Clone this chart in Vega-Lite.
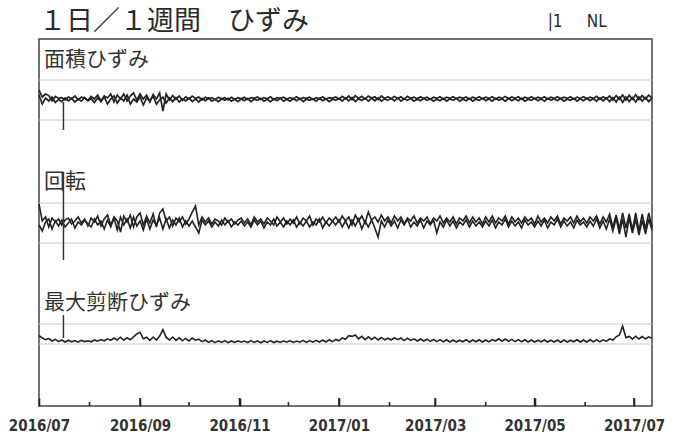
{
"$schema": "https://vega.github.io/schema/vega-lite/v6.json",
"width": 613, "height": 367,
"autosize": {"type": "none"},
"padding": {"left": 39, "top": 39, "right": 30, "bottom": 31},
"background": "white",
"config": {"view": {"stroke": "#444", "strokeWidth": 1.5}},
"datasets": {"strain": [
{"d":"2016-07-01","a1":0.5,"a2":0.25,"r1":0.95,"r2":-0.1,"s":0.42},
{"d":"2016-07-03","a1":0.15,"a2":-0.2,"r1":0.1,"r2":-0.4,"s":0.3},
{"d":"2016-07-05","a1":0.3,"a2":0.1,"r1":0.3,"r2":0.05,"s":0.22},
{"d":"2016-07-07","a1":0.22,"a2":-0.05,"r1":-0.2,"r2":0.2,"s":0.27},
{"d":"2016-07-09","a1":-0.05,"a2":0.15,"r1":0.25,"r2":-0.3,"s":0.15},
{"d":"2016-07-11","a1":0.18,"a2":-0.12,"r1":0.05,"r2":0.1,"s":0.23},
{"d":"2016-07-13","a1":0.08,"a2":0.02,"r1":0.2,"r2":-0.15,"s":0.12},
{"d":"2016-07-15","a1":0.12,"a2":-0.08,"r1":-0.1,"r2":0.15,"s":0.2},
{"d":"2016-07-17","a1":0.0,"a2":0.1,"r1":0.15,"r2":-0.2,"s":0.1},
{"d":"2016-07-19","a1":0.15,"a2":-0.05,"r1":0.25,"r2":0.0,"s":0.19},
{"d":"2016-07-21","a1":0.06,"a2":0.08,"r1":-0.05,"r2":0.2,"s":0.11},
{"d":"2016-07-23","a1":0.2,"a2":-0.1,"r1":0.1,"r2":-0.25,"s":0.17},
{"d":"2016-07-25","a1":0.02,"a2":0.05,"r1":0.3,"r2":0.05,"s":0.09},
{"d":"2016-07-27","a1":0.14,"a2":-0.06,"r1":0.0,"r2":-0.1,"s":0.18},
{"d":"2016-07-29","a1":0.1,"a2":0.12,"r1":0.2,"r2":0.15,"s":0.12},
{"d":"2016-07-31","a1":-0.02,"a2":-0.04,"r1":-0.15,"r2":-0.05,"s":0.16},
{"d":"2016-08-02","a1":0.18,"a2":0.06,"r1":0.25,"r2":-0.2,"s":0.11},
{"d":"2016-08-04","a1":0.05,"a2":-0.12,"r1":0.05,"r2":0.2,"s":0.2},
{"d":"2016-08-06","a1":0.25,"a2":0.1,"r1":0.35,"r2":-0.1,"s":0.14},
{"d":"2016-08-08","a1":-0.05,"a2":-0.08,"r1":-0.15,"r2":0.1,"s":0.22},
{"d":"2016-08-10","a1":0.2,"a2":0.15,"r1":0.2,"r2":-0.3,"s":0.16},
{"d":"2016-08-12","a1":0.1,"a2":-0.2,"r1":0.4,"r2":0.15,"s":0.26},
{"d":"2016-08-14","a1":0.3,"a2":0.05,"r1":-0.1,"r2":-0.2,"s":0.18},
{"d":"2016-08-16","a1":-0.1,"a2":0.2,"r1":0.3,"r2":0.25,"s":0.3},
{"d":"2016-08-18","a1":0.25,"a2":-0.15,"r1":0.1,"r2":-0.35,"s":0.2},
{"d":"2016-08-20","a1":0.05,"a2":0.1,"r1":-0.45,"r2":0.3,"s":0.34},
{"d":"2016-08-22","a1":0.3,"a2":-0.05,"r1":0.35,"r2":-0.1,"s":0.19},
{"d":"2016-08-24","a1":-0.05,"a2":0.25,"r1":0.05,"r2":0.2,"s":0.31},
{"d":"2016-08-26","a1":0.2,"a2":-0.2,"r1":0.4,"r2":-0.25,"s":0.21},
{"d":"2016-08-28","a1":0.35,"a2":0.05,"r1":-0.2,"r2":0.3,"s":0.36},
{"d":"2016-08-30","a1":0.0,"a2":-0.1,"r1":0.3,"r2":-0.15,"s":0.5},
{"d":"2016-09-01","a1":0.3,"a2":0.15,"r1":0.5,"r2":0.1,"s":0.58},
{"d":"2016-09-03","a1":0.05,"a2":-0.25,"r1":-0.1,"r2":-0.35,"s":0.26},
{"d":"2016-09-05","a1":0.25,"a2":0.1,"r1":0.35,"r2":0.2,"s":0.34},
{"d":"2016-09-07","a1":-0.1,"a2":-0.05,"r1":0.0,"r2":-0.3,"s":0.18},
{"d":"2016-09-09","a1":0.28,"a2":0.2,"r1":0.45,"r2":0.15,"s":0.35},
{"d":"2016-09-11","a1":0.05,"a2":-0.2,"r1":-0.2,"r2":-0.1,"s":0.2},
{"d":"2016-09-13","a1":0.35,"a2":0.0,"r1":0.5,"r2":0.25,"s":0.4},
{"d":"2016-09-15","a1":-0.55,"a2":0.15,"r1":0.7,"r2":-0.3,"s":0.72},
{"d":"2016-09-17","a1":0.3,"a2":-0.15,"r1":0.1,"r2":0.2,"s":0.33},
{"d":"2016-09-19","a1":0.0,"a2":0.1,"r1":0.3,"r2":-0.25,"s":0.2},
{"d":"2016-09-21","a1":0.22,"a2":-0.08,"r1":-0.15,"r2":0.15,"s":0.35},
{"d":"2016-09-23","a1":0.05,"a2":0.12,"r1":0.25,"r2":-0.1,"s":0.18},
{"d":"2016-09-25","a1":0.2,"a2":-0.1,"r1":0.05,"r2":0.25,"s":0.31},
{"d":"2016-09-27","a1":-0.02,"a2":0.06,"r1":0.3,"r2":-0.2,"s":0.16},
{"d":"2016-09-29","a1":0.16,"a2":-0.05,"r1":-0.05,"r2":0.1,"s":0.28},
{"d":"2016-10-01","a1":0.04,"a2":0.1,"r1":0.2,"r2":-0.15,"s":0.15},
{"d":"2016-10-03","a1":0.2,"a2":-0.08,"r1":0.55,"r2":0.1,"s":0.3},
{"d":"2016-10-05","a1":0.08,"a2":0.06,"r1":0.85,"r2":-0.2,"s":0.19},
{"d":"2016-10-07","a1":0.15,"a2":-0.1,"r1":-0.1,"r2":-0.5,"s":0.24},
{"d":"2016-10-09","a1":0.0,"a2":0.08,"r1":0.3,"r2":0.15,"s":0.12},
{"d":"2016-10-11","a1":0.14,"a2":-0.04,"r1":0.05,"r2":-0.1,"s":0.2},
{"d":"2016-10-13","a1":0.06,"a2":0.1,"r1":0.25,"r2":0.1,"s":0.08},
{"d":"2016-10-15","a1":0.12,"a2":-0.06,"r1":-0.05,"r2":-0.2,"s":0.17},
{"d":"2016-10-17","a1":0.02,"a2":0.04,"r1":0.2,"r2":0.05,"s":0.07},
{"d":"2016-10-19","a1":0.14,"a2":-0.08,"r1":0.1,"r2":-0.15,"s":0.16},
{"d":"2016-10-21","a1":0.06,"a2":0.06,"r1":-0.1,"r2":0.15,"s":0.08},
{"d":"2016-10-23","a1":0.12,"a2":-0.02,"r1":0.25,"r2":-0.1,"s":0.17},
{"d":"2016-10-25","a1":0.0,"a2":0.08,"r1":0.05,"r2":0.1,"s":0.07},
{"d":"2016-10-27","a1":0.14,"a2":-0.06,"r1":0.2,"r2":-0.2,"s":0.15},
{"d":"2016-10-29","a1":0.04,"a2":0.04,"r1":-0.05,"r2":0.05,"s":0.08},
{"d":"2016-10-31","a1":0.12,"a2":-0.08,"r1":0.15,"r2":-0.1,"s":0.16},
{"d":"2016-11-02","a1":0.06,"a2":0.06,"r1":0.25,"r2":0.1,"s":0.09},
{"d":"2016-11-04","a1":0.14,"a2":-0.04,"r1":0.0,"r2":-0.15,"s":0.15},
{"d":"2016-11-06","a1":0.02,"a2":0.08,"r1":0.2,"r2":0.05,"s":0.07},
{"d":"2016-11-08","a1":0.12,"a2":-0.08,"r1":-0.1,"r2":-0.2,"s":0.17},
{"d":"2016-11-10","a1":0.08,"a2":0.04,"r1":0.3,"r2":0.15,"s":0.08},
{"d":"2016-11-12","a1":0.15,"a2":-0.02,"r1":0.05,"r2":-0.1,"s":0.16},
{"d":"2016-11-14","a1":0.03,"a2":0.08,"r1":0.2,"r2":0.1,"s":0.06},
{"d":"2016-11-16","a1":0.12,"a2":-0.06,"r1":-0.05,"r2":-0.25,"s":0.15},
{"d":"2016-11-18","a1":0.06,"a2":0.04,"r1":0.25,"r2":0.05,"s":0.08},
{"d":"2016-11-20","a1":0.16,"a2":-0.08,"r1":0.1,"r2":-0.1,"s":0.17},
{"d":"2016-11-22","a1":0.02,"a2":0.06,"r1":-0.1,"r2":0.2,"s":0.07},
{"d":"2016-11-24","a1":0.12,"a2":-0.04,"r1":0.3,"r2":-0.15,"s":0.14},
{"d":"2016-11-26","a1":0.08,"a2":0.08,"r1":0.05,"r2":0.05,"s":0.08},
{"d":"2016-11-28","a1":0.14,"a2":-0.06,"r1":0.25,"r2":-0.2,"s":0.16},
{"d":"2016-11-30","a1":0.04,"a2":0.04,"r1":-0.05,"r2":0.1,"s":0.09},
{"d":"2016-12-02","a1":0.12,"a2":-0.06,"r1":0.2,"r2":-0.1,"s":0.17},
{"d":"2016-12-04","a1":0.06,"a2":0.06,"r1":0.0,"r2":0.15,"s":0.08},
{"d":"2016-12-06","a1":0.16,"a2":-0.04,"r1":0.3,"r2":-0.2,"s":0.15},
{"d":"2016-12-08","a1":0.04,"a2":0.08,"r1":-0.05,"r2":0.05,"s":0.09},
{"d":"2016-12-10","a1":0.12,"a2":-0.08,"r1":0.25,"r2":-0.15,"s":0.18},
{"d":"2016-12-12","a1":0.08,"a2":0.04,"r1":0.1,"r2":0.1,"s":0.08},
{"d":"2016-12-14","a1":0.14,"a2":-0.02,"r1":0.35,"r2":-0.2,"s":0.17},
{"d":"2016-12-16","a1":0.02,"a2":0.06,"r1":-0.1,"r2":0.05,"s":0.09},
{"d":"2016-12-18","a1":0.12,"a2":-0.06,"r1":0.2,"r2":-0.1,"s":0.18},
{"d":"2016-12-20","a1":0.06,"a2":0.08,"r1":0.05,"r2":0.2,"s":0.1},
{"d":"2016-12-22","a1":0.16,"a2":-0.04,"r1":0.3,"r2":-0.25,"s":0.2},
{"d":"2016-12-24","a1":0.04,"a2":0.06,"r1":0.0,"r2":0.05,"s":0.1},
{"d":"2016-12-26","a1":0.12,"a2":-0.08,"r1":0.25,"r2":-0.15,"s":0.21},
{"d":"2016-12-28","a1":0.08,"a2":0.04,"r1":0.1,"r2":0.1,"s":0.12},
{"d":"2016-12-30","a1":0.15,"a2":-0.02,"r1":0.3,"r2":-0.1,"s":0.23},
{"d":"2017-01-01","a1":0.04,"a2":0.08,"r1":0.05,"r2":0.15,"s":0.16},
{"d":"2017-01-03","a1":0.18,"a2":-0.06,"r1":0.35,"r2":-0.2,"s":0.3},
{"d":"2017-01-05","a1":0.06,"a2":0.1,"r1":0.1,"r2":0.1,"s":0.24},
{"d":"2017-01-07","a1":0.2,"a2":-0.04,"r1":0.3,"r2":-0.25,"s":0.42},
{"d":"2017-01-09","a1":0.02,"a2":0.12,"r1":-0.1,"r2":0.15,"s":0.38},
{"d":"2017-01-11","a1":0.22,"a2":-0.08,"r1":0.4,"r2":-0.15,"s":0.45},
{"d":"2017-01-13","a1":0.08,"a2":0.06,"r1":0.1,"r2":0.2,"s":0.26},
{"d":"2017-01-15","a1":0.18,"a2":-0.02,"r1":0.35,"r2":-0.3,"s":0.38},
{"d":"2017-01-17","a1":0.04,"a2":0.1,"r1":0.0,"r2":0.1,"s":0.22},
{"d":"2017-01-19","a1":0.2,"a2":-0.06,"r1":0.55,"r2":-0.2,"s":0.36},
{"d":"2017-01-21","a1":0.1,"a2":0.08,"r1":0.15,"r2":0.15,"s":0.23},
{"d":"2017-01-23","a1":0.16,"a2":-0.04,"r1":0.3,"r2":-0.25,"s":0.34},
{"d":"2017-01-25","a1":0.02,"a2":0.1,"r1":0.05,"r2":-0.7,"s":0.2},
{"d":"2017-01-27","a1":0.2,"a2":-0.06,"r1":0.4,"r2":0.1,"s":0.33},
{"d":"2017-01-29","a1":0.08,"a2":0.06,"r1":0.1,"r2":-0.2,"s":0.21},
{"d":"2017-01-31","a1":0.16,"a2":-0.02,"r1":0.3,"r2":0.15,"s":0.29},
{"d":"2017-02-02","a1":0.06,"a2":0.08,"r1":0.0,"r2":-0.15,"s":0.2},
{"d":"2017-02-04","a1":0.18,"a2":-0.04,"r1":0.35,"r2":0.1,"s":0.31},
{"d":"2017-02-06","a1":0.08,"a2":0.1,"r1":0.1,"r2":-0.25,"s":0.22},
{"d":"2017-02-08","a1":0.16,"a2":-0.06,"r1":0.3,"r2":0.15,"s":0.3},
{"d":"2017-02-10","a1":0.04,"a2":0.06,"r1":-0.05,"r2":-0.1,"s":0.17},
{"d":"2017-02-12","a1":0.18,"a2":-0.02,"r1":0.25,"r2":0.2,"s":0.29},
{"d":"2017-02-14","a1":0.08,"a2":0.08,"r1":0.1,"r2":-0.2,"s":0.18},
{"d":"2017-02-16","a1":0.14,"a2":-0.06,"r1":0.35,"r2":0.05,"s":0.26},
{"d":"2017-02-18","a1":0.06,"a2":0.04,"r1":0.0,"r2":-0.15,"s":0.15},
{"d":"2017-02-20","a1":0.16,"a2":-0.04,"r1":0.25,"r2":0.15,"s":0.25},
{"d":"2017-02-22","a1":0.08,"a2":0.08,"r1":0.1,"r2":-0.25,"s":0.15},
{"d":"2017-02-24","a1":0.14,"a2":-0.02,"r1":0.3,"r2":0.1,"s":0.24},
{"d":"2017-02-26","a1":0.04,"a2":0.06,"r1":-0.05,"r2":-0.1,"s":0.13},
{"d":"2017-02-28","a1":0.14,"a2":-0.06,"r1":0.25,"r2":0.15,"s":0.23},
{"d":"2017-03-02","a1":0.08,"a2":0.04,"r1":0.1,"r2":-0.5,"s":0.12},
{"d":"2017-03-04","a1":0.16,"a2":-0.04,"r1":0.35,"r2":0.05,"s":0.22},
{"d":"2017-03-06","a1":0.04,"a2":0.08,"r1":0.0,"r2":-0.2,"s":0.11},
{"d":"2017-03-08","a1":0.14,"a2":-0.06,"r1":0.25,"r2":0.15,"s":0.21},
{"d":"2017-03-10","a1":0.08,"a2":0.06,"r1":0.05,"r2":-0.15,"s":0.1},
{"d":"2017-03-12","a1":0.16,"a2":-0.02,"r1":0.3,"r2":0.1,"s":0.2},
{"d":"2017-03-14","a1":0.06,"a2":0.08,"r1":-0.05,"r2":-0.25,"s":0.1},
{"d":"2017-03-16","a1":0.14,"a2":-0.06,"r1":0.25,"r2":0.05,"s":0.19},
{"d":"2017-03-18","a1":0.08,"a2":0.04,"r1":0.1,"r2":-0.1,"s":0.11},
{"d":"2017-03-20","a1":0.15,"a2":-0.04,"r1":0.35,"r2":0.15,"s":0.21},
{"d":"2017-03-22","a1":0.04,"a2":0.08,"r1":0.0,"r2":-0.2,"s":0.1},
{"d":"2017-03-24","a1":0.14,"a2":-0.06,"r1":0.3,"r2":0.1,"s":0.2},
{"d":"2017-03-26","a1":0.08,"a2":0.04,"r1":0.05,"r2":-0.15,"s":0.11},
{"d":"2017-03-28","a1":0.16,"a2":-0.02,"r1":0.25,"r2":0.05,"s":0.21},
{"d":"2017-03-30","a1":0.06,"a2":0.08,"r1":-0.05,"r2":-0.2,"s":0.1},
{"d":"2017-04-01","a1":0.14,"a2":-0.04,"r1":0.3,"r2":0.1,"s":0.2},
{"d":"2017-04-03","a1":0.08,"a2":0.06,"r1":0.05,"r2":-0.15,"s":0.11},
{"d":"2017-04-05","a1":0.16,"a2":-0.06,"r1":0.35,"r2":0.15,"s":0.22},
{"d":"2017-04-07","a1":0.04,"a2":0.08,"r1":0.0,"r2":-0.25,"s":0.15},
{"d":"2017-04-09","a1":0.14,"a2":-0.02,"r1":0.25,"r2":0.05,"s":0.26},
{"d":"2017-04-11","a1":0.08,"a2":0.06,"r1":0.1,"r2":-0.1,"s":0.14},
{"d":"2017-04-13","a1":0.18,"a2":-0.06,"r1":0.35,"r2":0.2,"s":0.25},
{"d":"2017-04-15","a1":0.06,"a2":0.08,"r1":-0.05,"r2":-0.2,"s":0.13},
{"d":"2017-04-17","a1":0.15,"a2":-0.04,"r1":0.3,"r2":0.1,"s":0.23},
{"d":"2017-04-19","a1":0.08,"a2":0.06,"r1":0.05,"r2":-0.15,"s":0.12},
{"d":"2017-04-21","a1":0.16,"a2":-0.04,"r1":0.25,"r2":0.05,"s":0.22},
{"d":"2017-04-23","a1":0.04,"a2":0.08,"r1":0.0,"r2":-0.25,"s":0.11},
{"d":"2017-04-25","a1":0.14,"a2":-0.06,"r1":0.3,"r2":0.15,"s":0.21},
{"d":"2017-04-27","a1":0.08,"a2":0.04,"r1":0.1,"r2":-0.1,"s":0.1},
{"d":"2017-04-29","a1":0.16,"a2":-0.02,"r1":0.25,"r2":0.05,"s":0.2},
{"d":"2017-05-01","a1":0.06,"a2":0.08,"r1":-0.05,"r2":-0.2,"s":0.1},
{"d":"2017-05-03","a1":0.14,"a2":-0.04,"r1":0.35,"r2":0.1,"s":0.19},
{"d":"2017-05-05","a1":0.08,"a2":0.06,"r1":0.05,"r2":-0.15,"s":0.11},
{"d":"2017-05-07","a1":0.16,"a2":-0.06,"r1":0.25,"r2":0.15,"s":0.2},
{"d":"2017-05-09","a1":0.04,"a2":0.08,"r1":0.0,"r2":-0.25,"s":0.1},
{"d":"2017-05-11","a1":0.14,"a2":-0.02,"r1":0.3,"r2":0.05,"s":0.19},
{"d":"2017-05-13","a1":0.08,"a2":0.06,"r1":0.1,"r2":-0.1,"s":0.1},
{"d":"2017-05-15","a1":0.16,"a2":-0.04,"r1":0.35,"r2":0.2,"s":0.2},
{"d":"2017-05-17","a1":0.06,"a2":0.08,"r1":-0.05,"r2":-0.2,"s":0.09},
{"d":"2017-05-19","a1":0.14,"a2":-0.06,"r1":0.25,"r2":0.1,"s":0.2},
{"d":"2017-05-21","a1":0.08,"a2":0.04,"r1":0.1,"r2":-0.15,"s":0.1},
{"d":"2017-05-23","a1":0.16,"a2":-0.02,"r1":0.3,"r2":0.05,"s":0.19},
{"d":"2017-05-25","a1":0.04,"a2":0.08,"r1":0.0,"r2":-0.25,"s":0.11},
{"d":"2017-05-27","a1":0.14,"a2":-0.06,"r1":0.35,"r2":0.15,"s":0.21},
{"d":"2017-05-29","a1":0.08,"a2":0.06,"r1":0.05,"r2":-0.1,"s":0.1},
{"d":"2017-05-31","a1":0.16,"a2":-0.04,"r1":0.25,"r2":0.05,"s":0.2},
{"d":"2017-06-02","a1":0.06,"a2":0.08,"r1":0.0,"r2":-0.2,"s":0.1},
{"d":"2017-06-04","a1":0.14,"a2":-0.04,"r1":0.3,"r2":0.1,"s":0.21},
{"d":"2017-06-06","a1":0.08,"a2":0.06,"r1":0.1,"r2":-0.15,"s":0.11},
{"d":"2017-06-08","a1":0.18,"a2":-0.06,"r1":0.35,"r2":0.2,"s":0.22},
{"d":"2017-06-10","a1":0.04,"a2":0.1,"r1":-0.05,"r2":-0.25,"s":0.11},
{"d":"2017-06-12","a1":0.16,"a2":-0.04,"r1":0.3,"r2":0.1,"s":0.21},
{"d":"2017-06-14","a1":0.06,"a2":0.1,"r1":0.05,"r2":-0.3,"s":0.13},
{"d":"2017-06-16","a1":0.2,"a2":-0.08,"r1":0.45,"r2":0.2,"s":0.26},
{"d":"2017-06-18","a1":0.0,"a2":0.12,"r1":-0.2,"r2":-0.4,"s":0.2},
{"d":"2017-06-20","a1":0.22,"a2":-0.1,"r1":0.4,"r2":0.25,"s":0.36},
{"d":"2017-06-22","a1":0.04,"a2":0.15,"r1":-0.3,"r2":-0.55,"s":0.45},
{"d":"2017-06-24","a1":0.25,"a2":-0.12,"r1":0.5,"r2":0.2,"s":0.9},
{"d":"2017-06-26","a1":0.0,"a2":0.15,"r1":-0.25,"r2":-0.7,"s":0.32},
{"d":"2017-06-28","a1":0.24,"a2":-0.08,"r1":0.45,"r2":0.25,"s":0.38},
{"d":"2017-06-30","a1":0.04,"a2":0.12,"r1":-0.35,"r2":-0.5,"s":0.24},
{"d":"2017-07-02","a1":0.26,"a2":-0.1,"r1":0.5,"r2":0.2,"s":0.39},
{"d":"2017-07-04","a1":0.02,"a2":0.15,"r1":-0.4,"r2":-0.6,"s":0.25},
{"d":"2017-07-06","a1":0.22,"a2":-0.06,"r1":0.45,"r2":0.15,"s":0.37},
{"d":"2017-07-08","a1":0.06,"a2":0.12,"r1":-0.3,"r2":-0.55,"s":0.26},
{"d":"2017-07-10","a1":0.24,"a2":-0.08,"r1":0.5,"r2":0.2,"s":0.36},
{"d":"2017-07-12","a1":0.1,"a2":0.1,"r1":-0.2,"r2":-0.35,"s":0.28}
]},
"data": {"name": "strain"},
"layer": [
 {"layer": [
  {"data": {"values": [{"g": 1}, {"g": -1}]},
   "mark": {"type": "rule", "color": "#c8c8c8", "strokeWidth": 1},
   "encoding": {"y": {"field": "g", "type": "quantitative", "scale": {"domain": [-15.3, 3.05], "nice": false, "zero": false}, "axis": null}}},
  {"transform": [{"fold": ["a1", "a2"], "as": ["k", "v"]}],
   "mark": {"type": "line", "color": "#222", "strokeWidth": 1.7},
   "encoding": {
    "x": {"field": "d", "type": "temporal", "scale": {"type": "utc", "domain": [1467331200000, 1499817600000], "nice": false},
     "axis": {"title": null, "grid": false, "domain": false, "offset": -8,
      "tickCount": {"interval": "month", "step": 2},
      "ticks": true, "tickSize": 8, "tickColor": "#222", "tickWidth": 1.6,
      "format": "%Y/%m",
      "labelFont": "Liberation Sans Narrow, DejaVu Sans Condensed, sans-serif", "labelFontSize": 15, "labelFontWeight": "bold",
      "labelColor": "#333", "labelPadding": 12, "labelFlush": false, "labelOverlap": false}},
    "y": {"field": "v", "type": "quantitative", "scale": {"domain": [-15.3, 3.05], "nice": false, "zero": false}, "axis": null},
    "detail": {"field": "k"}}},
  {"data": {"values": [{"d": "2016-07-16", "lo": -1.5, "hi": -0.1}]},
   "mark": {"type": "rule", "color": "#333", "strokeWidth": 1.5},
   "encoding": {
    "x": {"field": "d", "type": "temporal"},
    "y": {"field": "lo", "type": "quantitative", "scale": {"domain": [-15.3, 3.05], "nice": false, "zero": false}, "axis": null},
    "y2": {"field": "hi"}}},
  {"data": {"values": [{}]},
   "mark": {"type": "text", "align": "left", "baseline": "middle", "font": "Noto Sans CJK JP", "fontSize": 21, "color": "#333"},
   "encoding": {
    "text": {"datum": "面積ひずみ"},
    "x": {"datum": {"year": 2016, "month": 7, "date": 4, "utc": true}, "type": "temporal"},
    "y": {"datum": 2.0, "type": "quantitative", "scale": {"domain": [-15.3, 3.05], "nice": false, "zero": false}, "axis": null}}},
  {"data": {"values": [{}]},
   "mark": {"type": "text", "align": "left", "baseline": "middle", "font": "Noto Sans CJK JP", "fontSize": 27, "color": "#2a2a2a"},
   "encoding": {
    "text": {"datum": "１日／１週間　ひずみ"},
    "x": {"datum": {"year": 2016, "month": 7, "date": 1, "utc": true}, "type": "temporal"},
    "y": {"datum": 3.92, "type": "quantitative", "scale": {"domain": [-15.3, 3.05], "nice": false, "zero": false}, "axis": null}}},
  {"data": {"values": [{}]},
   "mark": {"type": "text", "align": "left", "baseline": "middle", "font": "Liberation Sans Narrow, DejaVu Sans Condensed, sans-serif", "fontSize": 17, "color": "#2a2a2a"},
   "encoding": {
    "text": {"datum": "|1\u00a0\u00a0\u00a0\u00a0\u00a0NL"},
    "x": {"datum": {"year": 2017, "month": 5, "date": 9, "utc": true}, "type": "temporal"},
    "y": {"datum": 3.9, "type": "quantitative", "scale": {"domain": [-15.3, 3.05], "nice": false, "zero": false}, "axis": null}}}
 ]},
 {"layer": [
  {"data": {"values": [{"g": 1}, {"g": -1}]},
   "mark": {"type": "rule", "color": "#c8c8c8", "strokeWidth": 1},
   "encoding": {"y": {"field": "g", "type": "quantitative", "scale": {"domain": [-9.15, 9.2], "nice": false, "zero": false}, "axis": null}}},
  {"transform": [{"fold": ["r1", "r2"], "as": ["k", "v"]}],
   "mark": {"type": "line", "color": "#222", "strokeWidth": 1.6},
   "encoding": {
    "x": {"field": "d", "type": "temporal"},
    "y": {"field": "v", "type": "quantitative", "scale": {"domain": [-9.15, 9.2], "nice": false, "zero": false}, "axis": null},
    "detail": {"field": "k"}}},
  {"data": {"values": [{"d": "2016-07-16", "lo": -1.85, "hi": 2.55}]},
   "mark": {"type": "rule", "color": "#333", "strokeWidth": 1.5},
   "encoding": {
    "x": {"field": "d", "type": "temporal"},
    "y": {"field": "lo", "type": "quantitative", "scale": {"domain": [-9.15, 9.2], "nice": false, "zero": false}, "axis": null},
    "y2": {"field": "hi"}}},
  {"data": {"values": [{}]},
   "mark": {"type": "text", "align": "left", "baseline": "middle", "font": "Noto Sans CJK JP", "fontSize": 21, "color": "#333"},
   "encoding": {
    "text": {"datum": "回転"},
    "x": {"datum": {"year": 2016, "month": 7, "date": 4, "utc": true}, "type": "temporal"},
    "y": {"datum": 2.05, "type": "quantitative", "scale": {"domain": [-9.15, 9.2], "nice": false, "zero": false}, "axis": null}}}
 ]},
 {"layer": [
  {"data": {"values": [{"g": 1}, {"g": 0}]},
   "mark": {"type": "rule", "color": "#c8c8c8", "strokeWidth": 1},
   "encoding": {"y": {"field": "g", "type": "quantitative", "scale": {"domain": [-3.1, 15.25], "nice": false, "zero": false}, "axis": null}}},
  {"mark": {"type": "line", "color": "#222", "strokeWidth": 1.6},
   "encoding": {
    "x": {"field": "d", "type": "temporal"},
    "y": {"field": "s", "type": "quantitative", "scale": {"domain": [-3.1, 15.25], "nice": false, "zero": false}, "axis": null}}},
  {"data": {"values": [{"d": "2016-07-16", "lo": 0.3, "hi": 1.45}]},
   "mark": {"type": "rule", "color": "#333", "strokeWidth": 1.5},
   "encoding": {
    "x": {"field": "d", "type": "temporal"},
    "y": {"field": "lo", "type": "quantitative", "scale": {"domain": [-3.1, 15.25], "nice": false, "zero": false}, "axis": null},
    "y2": {"field": "hi"}}},
  {"data": {"values": [
    {"m": "2016-08-01", "lo": -3.1, "hi": -2.9},
    {"m": "2016-09-01", "lo": -3.1, "hi": -2.7},
    {"m": "2016-10-01", "lo": -3.1, "hi": -2.9},
    {"m": "2016-11-01", "lo": -3.1, "hi": -2.7},
    {"m": "2016-12-01", "lo": -3.1, "hi": -2.9},
    {"m": "2017-01-01", "lo": -3.1, "hi": -2.7},
    {"m": "2017-02-01", "lo": -3.1, "hi": -2.9},
    {"m": "2017-03-01", "lo": -3.1, "hi": -2.7},
    {"m": "2017-04-01", "lo": -3.1, "hi": -2.9},
    {"m": "2017-05-01", "lo": -3.1, "hi": -2.7},
    {"m": "2017-06-01", "lo": -3.1, "hi": -2.9},
    {"m": "2017-07-01", "lo": -3.1, "hi": -2.7}]},
   "mark": {"type": "rule", "color": "#222", "strokeWidth": 1.6},
   "encoding": {
    "x": {"field": "m", "type": "temporal"},
    "y": {"field": "lo", "type": "quantitative", "scale": {"domain": [-3.1, 15.25], "nice": false, "zero": false}, "axis": null},
    "y2": {"field": "hi"}}},
  {"data": {"values": [{}]},
   "mark": {"type": "text", "align": "left", "baseline": "middle", "font": "Noto Sans CJK JP", "fontSize": 21, "color": "#333"},
   "encoding": {
    "text": {"datum": "最大剪断ひずみ"},
    "x": {"datum": {"year": 2016, "month": 7, "date": 4, "utc": true}, "type": "temporal"},
    "y": {"datum": 2.05, "type": "quantitative", "scale": {"domain": [-3.1, 15.25], "nice": false, "zero": false}, "axis": null}}}
 ]}
],
"resolve": {"scale": {"y": "independent"}}
}
